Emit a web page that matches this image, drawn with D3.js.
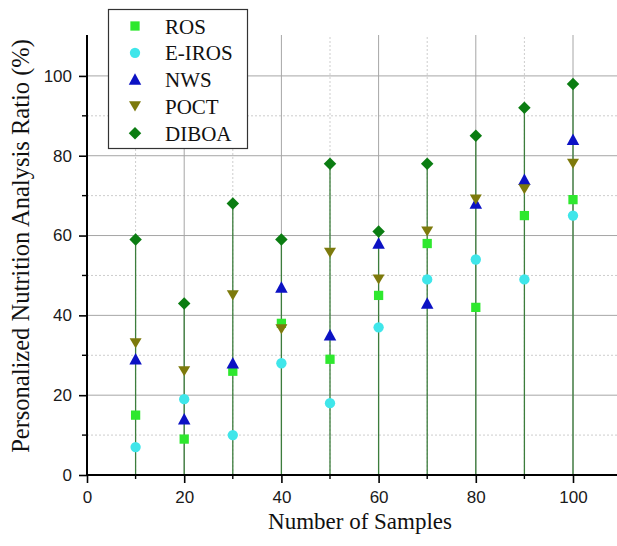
<!DOCTYPE html>
<html>
<head>
<meta charset="utf-8">
<script src="https://cdn.jsdelivr.net/npm/d3@7"></script>
<style>
  body { margin: 0; background: #fff; }
  svg { display: block; }
</style>
</head>
<body>
<div id="chart"></div>
<script>
var width = 617,
    height = 546;

// data
var samples = [10, 20, 30, 40, 50, 60, 70, 80, 90, 100];
var ros    = [15, 9, 26, 38, 29, 45, 58, 42, 65, 69];
var eiros  = [7, 19, 10, 28, 18, 37, 49, 54, 49, 65];
var nws    = [29, 14, 28, 47, 35, 58, 43, 68, 74, 84];
var poct   = [33, 26, 45, 36.5, 55.7, 49, 61, 69, 71.6, 78];
var diboa  = [59, 43, 68, 59, 78, 61, 78, 85, 92, 98];
var seriesNames = ['ROS', 'E-IROS', 'NWS', 'POCT', 'DIBOA'];
var xMajor = [0, 20, 40, 60, 80, 100];
var xMinor = [10, 30, 50, 70, 90];
var yMajor = [0, 20, 40, 60, 80, 100];
var yMinor = [10, 30, 50, 70, 90];

var colors = {
    'ROS': '#2ee82e',
    'E-IROS': '#3fe6ea',
    'NWS': '#0c12c4',
    'POCT': '#7d7a0c',
    'DIBOA': '#0b7d12'
};

// custom marker shapes
var square = { draw: function(ctx, s) { var r = Math.sqrt(s) / 2; ctx.rect(-r, -r, 2 * r, 2 * r); } };
var diamond = { draw: function(ctx, s) { var r = Math.sqrt(s / 2); ctx.moveTo(0, -r); ctx.lineTo(r, 0); ctx.lineTo(0, r); ctx.lineTo(-r, 0); ctx.closePath(); } };
var triUp = { draw: function(ctx, s) { var w = s / 2; ctx.moveTo(0, -w * 0.5); ctx.lineTo(w * 0.5, w * 0.42); ctx.lineTo(-w * 0.5, w * 0.42); ctx.closePath(); } };
var triDown = { draw: function(ctx, s) { var w = s / 2; ctx.moveTo(0, w * 0.42); ctx.lineTo(w * 0.5, -w * 0.42); ctx.lineTo(-w * 0.5, -w * 0.42); ctx.closePath(); } };

var series = [
    { name: 'ROS', values: ros, type: square, size: 86 },
    { name: 'E-IROS', values: eiros, type: d3.symbolCircle, size: 84 },
    { name: 'NWS', values: nws, type: triUp, size: 25 },
    { name: 'POCT', values: poct, type: triDown, size: 24 },
    { name: 'DIBOA', values: diboa, type: diamond, size: 78 }
];

var svg = d3.select('#chart').append('svg')
    .attr('width', width)
    .attr('height', height);

var x = d3.scaleLinear().domain([0, 110]).range([87, 621.6]);
var y = d3.scaleLinear().domain([0, 110]).range([475, 36]);

var grid = svg.append('g');

// minor grid (dashed)
grid.selectAll('.vmin').data(xMinor).enter().append('line')
    .attr('x1', x).attr('x2', x)
    .attr('y1', y(0)).attr('y2', 35)
    .attr('stroke', '#cdcdcd').attr('stroke-dasharray', '2,2');
grid.selectAll('.hmin').data(yMinor).enter().append('line')
    .attr('y1', y).attr('y2', y)
    .attr('x1', x(0)).attr('x2', width)
    .attr('stroke', '#cdcdcd').attr('stroke-dasharray', '2,2');

// major grid
grid.selectAll('.vmaj').data(xMajor.slice(1)).enter().append('line')
    .attr('x1', x).attr('x2', x)
    .attr('y1', y(0)).attr('y2', 35)
    .attr('stroke', '#a6a6a6');
grid.selectAll('.hmaj').data(yMajor.slice(1)).enter().append('line')
    .attr('y1', y).attr('y2', y)
    .attr('x1', x(0)).attr('x2', width)
    .attr('stroke', '#a6a6a6');

// drop lines from DIBOA down to the axis
svg.selectAll('.drop').data(samples).enter().append('line')
    .attr('x1', function(d) { return x(d); })
    .attr('x2', function(d) { return x(d); })
    .attr('y1', y(0))
    .attr('y2', function(d, i) { return y(diboa[i]); })
    .attr('stroke', '#3c7d3c')
    .attr('stroke-width', 1.3);

// axes
var xAxis = d3.axisBottom(x).tickValues(xMajor).tickSize(8).tickPadding(8).tickSizeOuter(0);
var yAxis = d3.axisLeft(y).tickValues(yMajor).tickSize(8).tickPadding(7).tickSizeOuter(0);

var gx = svg.append('g').attr('transform', 'translate(0,' + y(0) + ')').call(xAxis);
var gy = svg.append('g').attr('transform', 'translate(' + x(0) + ',0)').call(yAxis);

gx.select('.domain').attr('d', 'M' + x(0) + ',0H' + width);
gy.select('.domain').attr('d', 'M0,0V' + (35 - y(0))).attr('transform', 'translate(0,' + y(0) + ')');

[gx, gy].forEach(function(g) {
    g.select('.domain').attr('stroke', '#000').attr('stroke-width', 2);
    g.selectAll('.tick line').attr('stroke', '#000').attr('stroke-width', 1.6);
    g.selectAll('.tick text')
        .attr('fill', '#1a1a1a')
        .style('font-family', 'Liberation Sans, Arial, sans-serif')
        .style('font-size', '17px');
});

// minor ticks
gx.selectAll('.mtick').data(xMinor).enter().append('line')
    .attr('x1', x).attr('x2', x).attr('y1', 0).attr('y2', 4)
    .attr('stroke', '#000').attr('stroke-width', 1.4);
gy.selectAll('.mtick').data(yMinor).enter().append('line')
    .attr('y1', y).attr('y2', y).attr('x1', 0).attr('x2', -5)
    .attr('stroke', '#000').attr('stroke-width', 1.4);

// markers
series.forEach(function(s) {
    var sym = d3.symbol().type(s.type).size(s.size);
    svg.append('g').selectAll('path')
        .data(s.values)
        .enter()
        .append('path')
        .attr('d', sym)
        .attr('transform', function(d, i) { return 'translate(' + x(samples[i]) + ',' + y(d) + ')'; })
        .attr('fill', colors[s.name]);
});

// axis titles
svg.append('text')
    .attr('x', 360).attr('y', 529)
    .attr('text-anchor', 'middle')
    .style('font-family', 'Liberation Serif, Times New Roman, serif')
    .style('font-size', '23px')
    .attr('fill', '#111')
    .text('Number of Samples');

svg.append('text')
    .attr('transform', 'translate(29,246) rotate(-90)')
    .attr('text-anchor', 'middle')
    .style('font-family', 'Liberation Serif, Times New Roman, serif')
    .style('font-size', '24.5px')
    .attr('fill', '#111')
    .text('Personalized Nutrition Analysis Ratio (%)');

// legend
var legend = svg.append('g');
legend.append('rect')
    .attr('x', 108.5).attr('y', 9.5)
    .attr('width', 139).attr('height', 139)
    .attr('fill', '#fff')
    .attr('stroke', '#333').attr('stroke-width', 1.2);

var item = legend.selectAll('.item').data(series).enter().append('g')
    .attr('transform', function(d, i) { return 'translate(135,' + (26 + i * 26.8) + ')'; });
item.append('path')
    .attr('d', function(d) { return d3.symbol().type(d.type).size(d.size)(); })
    .attr('fill', function(d) { return colors[d.name]; });
item.append('text')
    .attr('x', 30).attr('y', 7.5)
    .style('font-family', 'Liberation Serif, Times New Roman, serif')
    .style('font-size', '21px')
    .attr('fill', '#111')
    .text(function(d) { return d.name; });
</script>
</body>
</html>
